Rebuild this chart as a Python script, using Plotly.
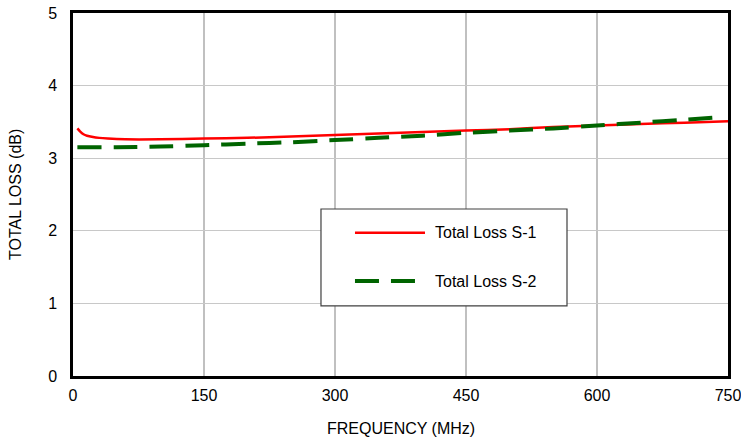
import plotly.graph_objects as go

freq_s1 = [5, 8, 12, 16, 20, 30, 40, 60, 100, 150, 200, 250, 300, 350, 400, 450, 500, 550, 600, 650, 700, 750]
loss_s1 = [3.41, 3.37, 3.33, 3.31, 3.30, 3.28, 3.27, 3.26, 3.26, 3.27, 3.28, 3.30, 3.32, 3.34, 3.36, 3.38, 3.40, 3.43, 3.45, 3.47, 3.49, 3.51]
freq_s2 = [5, 50, 100, 150, 200, 250, 300, 350, 400, 450, 500, 550, 600, 650, 700, 745]
loss_s2 = [3.15, 3.15, 3.16, 3.18, 3.20, 3.22, 3.25, 3.28, 3.31, 3.35, 3.38, 3.41, 3.45, 3.49, 3.53, 3.57]
x_ticks = [0, 150, 300, 450, 600, 750]
y_ticks = [0, 1, 2, 3, 4, 5]
names = ["Total Loss S-1", "Total Loss S-2"]
x_title = "FREQUENCY (MHz)"
y_title = "TOTAL LOSS (dB)"

FONT = "Liberation Sans, Arial, sans-serif"
FS = 16
RED = "#ff0000"
GREEN = "#006400"

fig = go.Figure()
fig.add_trace(go.Scatter(x=freq_s1, y=loss_s1, mode="lines", name=names[0],
                         line=dict(color=RED, width=2.5, shape="spline", smoothing=0.6)))
fig.add_trace(go.Scatter(x=freq_s2, y=loss_s2, mode="lines", name=names[1],
                         line=dict(color=GREEN, width=4, dash="24px,12px", shape="spline", smoothing=0.6)))

# manual legend box
lx0, lx1, ly0, ly1 = 0.3786, 0.7542, 0.193, 0.460
shapes = [dict(type="rect", xref="paper", yref="paper", x0=lx0, x1=lx1, y0=ly0, y1=ly1,
               line=dict(color="#404040", width=1.2), fillcolor="white", layer="above")]
rows = [(0.3948, RED, 2.5, "solid"), (0.2617, GREEN, 4, "24px,12px")]
annotations = []
for (yy, col, w, d), nm in zip(rows, names):
    shapes.append(dict(type="line", xref="paper", yref="paper", x0=0.4305, x1=0.5374, y0=yy, y1=yy,
                       line=dict(color=col, width=w, dash=d), layer="above"))
    annotations.append(dict(xref="paper", yref="paper", x=0.5496, y=yy, text=nm, showarrow=False,
                            xanchor="left", yanchor="middle", font=dict(family=FONT, size=FS, color="black")))

# axis titles
annotations.append(dict(xref="paper", yref="paper", x=0.5, y=-0.146, text=x_title, showarrow=False,
                        xanchor="center", yanchor="middle", font=dict(family=FONT, size=FS, color="black")))
annotations.append(dict(xref="paper", yref="paper", x=-0.0878, y=0.5, text=y_title, showarrow=False,
                        textangle=-90, xanchor="center", yanchor="middle",
                        font=dict(family=FONT, size=FS, color="black")))

fig.update_layout(
    width=741, height=445,
    margin=dict(l=73, r=13, t=13, b=69, autoexpand=False),
    paper_bgcolor="white", plot_bgcolor="white",
    showlegend=False,
    font=dict(family=FONT, size=FS, color="black"),
    shapes=shapes, annotations=annotations,
)
fig.update_xaxes(range=[0, 750], tickvals=x_ticks, ticktext=[str(v) for v in x_ticks],
                 showgrid=True, gridcolor="#c0c0c0", gridwidth=2,
                 showline=True, linecolor="black", linewidth=2.5, mirror=True,
                 ticks="outside", ticklen=3, tickcolor="rgba(0,0,0,0)",
                 ticklabeloverflow="allow",
                 zeroline=False, automargin=False)
fig.update_yaxes(range=[0, 5], tickvals=y_ticks, ticktext=[str(v) for v in y_ticks],
                 showgrid=True, gridcolor="#c8c8c8", gridwidth=1,
                 showline=True, linecolor="black", linewidth=2.5, mirror=True,
                 ticks="outside", ticklen=10, tickcolor="rgba(0,0,0,0)",
                 ticklabeloverflow="allow",
                 zeroline=False, automargin=False)

fig.write_html("out.html")
